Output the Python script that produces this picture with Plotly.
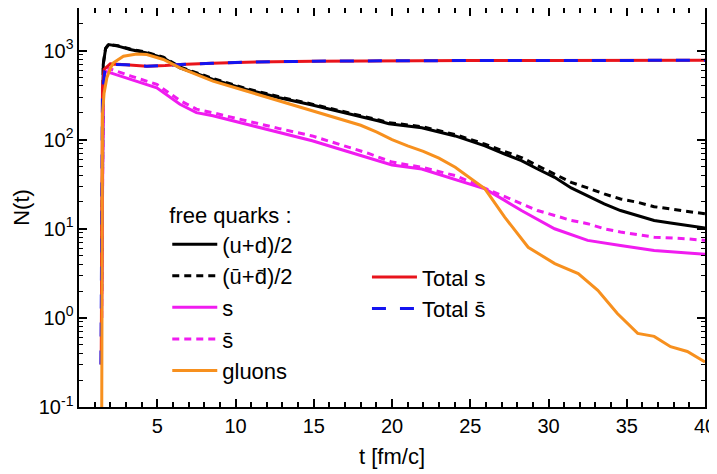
import plotly.graph_objects as go

# ---------------- data ----------------
t_ud = [1.45, 1.55, 1.7, 1.89, 2.5, 3.27, 4.33, 5.39, 6.45, 7.08, 8.56, 10.69, 12.8, 14.9, 17.0,
        19.16, 19.8, 21.9, 24.04, 25.94, 27.2, 28.27, 29.3, 30.39, 31.45, 32.5, 33.56, 34.6,
        35.7, 36.75, 37.8, 38.9, 40.0]
n_ud = [2, 700, 1050, 1167, 1120, 1026, 940, 826, 640, 588, 474, 366, 295, 245, 201,
        162, 151, 136, 110, 85, 69, 58, 46.8, 37.8, 28.7, 23.5, 19.0, 16.0,
        14.1, 12.4, 11.6, 10.9, 10.2]

t_udbar = [1.45, 1.55, 1.7, 1.89, 2.5, 3.27, 4.33, 5.39, 6.45, 7.08, 8.56, 10.69, 12.8, 14.9, 17.0,
           19.16, 19.8, 21.9, 24.04, 25.94, 27.2, 28.27, 29.3, 30.39, 31.45, 32.5, 33.56, 34.6,
           35.7, 36.75, 37.8, 38.9, 40.0]
n_udbar = [2, 710, 1060, 1175, 1130, 1040, 955, 840, 655, 600, 485, 375, 302, 250, 206,
           166, 155, 140, 114, 89, 73.6, 63, 51, 41.2, 33.2, 28.7, 24.6, 21.6,
           19.8, 17.7, 16.7, 15.6, 14.7]

t_s = [1.45, 1.55, 1.68, 2.0, 3.27, 4.97, 6.45, 7.5, 8.56, 10.69, 12.8, 14.9, 17.0, 18.5,
       20.0, 21.9, 24.04, 25.94, 27.2, 28.27, 30.39, 32.5, 34.6, 36.75, 38.9, 40.0]
n_s = [1, 400, 587, 563, 474, 382, 249, 201, 185, 149, 122, 97, 75, 63,
       52, 46.8, 36, 28, 20.8, 16, 10.0, 7.4, 6.5, 5.7, 5.34, 5.17]

t_sbar = [1.45, 1.55, 1.7, 2.0, 3.27, 4.97, 6.45, 7.5, 8.56, 10.69, 12.8, 14.9, 17.0, 18.5,
          20.0, 21.9, 24.04, 25.94, 27.2, 28.27, 29.3, 30.39, 31.45, 32.5, 33.56, 34.6,
          35.7, 36.75, 38.9, 40.0]
n_sbar = [1, 450, 650, 620, 520, 417, 275, 220, 200, 162, 133, 110, 84, 70,
          56, 49, 39.5, 28.5, 22.5, 19, 16, 14.1, 12.4, 11.4, 10.0, 9.2,
          8.6, 8.05, 7.7, 7.4]

t_gl = [1.45, 1.5, 1.6, 1.78, 2.0, 2.2, 2.84, 3.69, 4.33, 5.39, 6.45, 8.56, 10.69, 12.8, 14.92,
        16.0, 18.0, 19.0, 20.0, 21.0, 22.0, 23.0, 24.04, 25.94, 27.2, 28.7, 30.4, 31.9, 33.15,
        34.4, 35.7, 36.75, 37.8, 38.87, 40.0]
n_gl = [0.05, 190, 330, 494, 630, 727, 863, 916, 901, 794, 640, 454, 351, 272, 212,
        185, 145, 122, 100, 85, 74, 62, 49, 28, 13.5, 6.2, 4.06, 3.14, 2.04,
        1.12, 0.67, 0.62, 0.475, 0.42, 0.32]

t_tot_s = [1.42, 1.5, 1.6, 2.0, 3.0, 4.33, 5.5, 6.45, 8.5, 10.7, 15.0, 20.0, 25.0, 30.0, 35.0, 40.0]
n_tot_s = [0.3, 380, 614, 708, 690, 668, 680, 697, 720, 740, 760, 770, 772, 774, 776, 776]

t_tot_sbar = [1.40, 1.45, 1.5, 1.65, 2.0, 3.0, 4.33, 5.5, 6.45, 8.5, 10.7, 15.0, 20.0, 25.0, 30.0, 35.0, 40.0]
n_tot_sbar = [0.3, 10, 350, 590, 700, 690, 668, 680, 697, 720, 740, 760, 770, 772, 774, 776, 776]

labels = ["(u+d)/2", "(u\u0304+d\u0304)/2", "s", "s\u0304", "gluons", "Total s", "Total s\u0304"]
legend_title = "free quarks :"
x_title = "t [fm/c]"
y_title = "N(t)"
x_tickvals = [5, 10, 15, 20, 25, 30, 35, 40]
y_tickvals = [0.1, 1, 10, 100, 1000]
y_ticktext = ["10<sup>-1</sup>\u00a0", "10<sup>0</sup>\u00a0", "10<sup>1</sup>\u00a0",
              "10<sup>2</sup>\u00a0", "10<sup>3</sup>\u00a0"]
y_range_log = [-1, 3.477]

# ---------------- figure ----------------
BLACK = "#000000"
MAGENTA = "#f01cf0"
ORANGE = "#f7901e"
RED = "#e8141c"
BLUE = "#1414f0"
FONT = "Liberation Sans, Arial, sans-serif"

fig = go.Figure()
fig.add_trace(go.Scatter(x=t_ud, y=n_ud, mode="lines", name=labels[0],
                         line=dict(color=BLACK, width=3), legend="legend"))
fig.add_trace(go.Scatter(x=t_udbar, y=n_udbar, mode="lines", name=labels[1],
                         line=dict(color=BLACK, width=3, dash="7px,5px"), legend="legend"))
fig.add_trace(go.Scatter(x=t_s, y=n_s, mode="lines", name=labels[2],
                         line=dict(color=MAGENTA, width=3), legend="legend"))
fig.add_trace(go.Scatter(x=t_sbar, y=n_sbar, mode="lines", name=labels[3],
                         line=dict(color=MAGENTA, width=3, dash="7px,5px"), legend="legend"))
fig.add_trace(go.Scatter(x=t_tot_s, y=n_tot_s, mode="lines", name=labels[5],
                         line=dict(color=RED, width=3), legend="legend2"))
fig.add_trace(go.Scatter(x=t_tot_sbar, y=n_tot_sbar, mode="lines", name=labels[6],
                         line=dict(color=BLUE, width=3, dash="14px,14px"), legend="legend2"))
# gluons on the overlaying (identical-range) y axis that carries the tick labels
fig.add_trace(go.Scatter(x=t_gl, y=n_gl, mode="lines", name=labels[4], yaxis="y2",
                         line=dict(color=ORANGE, width=3), legend="legend"))

axis_common = dict(showgrid=False, zeroline=False, showline=True, linecolor="black",
                   linewidth=1.5, mirror="ticks", ticks="inside", ticklen=8,
                   tickcolor="black", tickwidth=1.5,
                   tickfont=dict(family=FONT, size=20, color="black"))

fig.update_xaxes(range=[0, 40], tickmode="array", tickvals=x_tickvals,
                 minor=dict(ticks="inside", ticklen=5, dtick=1, tick0=0,
                            tickcolor="black", tickwidth=1.5, showgrid=False),
                 title=dict(text=x_title, font=dict(family=FONT, size=22, color="black"),
                            standoff=13),
                 **axis_common)
# main y axis: frame line and ticks only
fig.update_layout(yaxis=dict(type="log", range=y_range_log, tickmode="array",
                             tickvals=y_tickvals, showticklabels=False,
                             minor=dict(ticks="inside", ticklen=4, dtick="D1",
                                        tickcolor="black", tickwidth=1, showgrid=False),
                             **axis_common))

legend_font = dict(family=FONT, size=22, color="black")
fig.update_layout(
    width=717, height=466,
    margin=dict(l=71, r=20, t=0, b=67, autoexpand=False),
    paper_bgcolor="white", plot_bgcolor="white",
    yaxis2=dict(type="log", range=y_range_log, overlaying="y", anchor="free",
                position=0, side="left", tickmode="array",
                tickvals=y_tickvals, ticktext=y_ticktext, ticks="",
                showline=False, showgrid=False, zeroline=False,
                tickfont=dict(family=FONT, size=20, color="black"),
                title=dict(text=y_title, font=dict(family=FONT, size=22, color="black"),
                           standoff=2)),
    legend=dict(x=0.141, y=0.532, xanchor="left", yanchor="top",
                bgcolor="rgba(0,0,0,0)", borderwidth=0, font=legend_font,
                itemwidth=45, tracegroupgap=0,
                title=dict(text=legend_title, font=legend_font)),
    legend2=dict(x=0.46, y=0.378, xanchor="left", yanchor="top",
                 bgcolor="rgba(0,0,0,0)", borderwidth=0, font=legend_font,
                 itemwidth=45, tracegroupgap=0),
)

fig.write_html("out.html")
